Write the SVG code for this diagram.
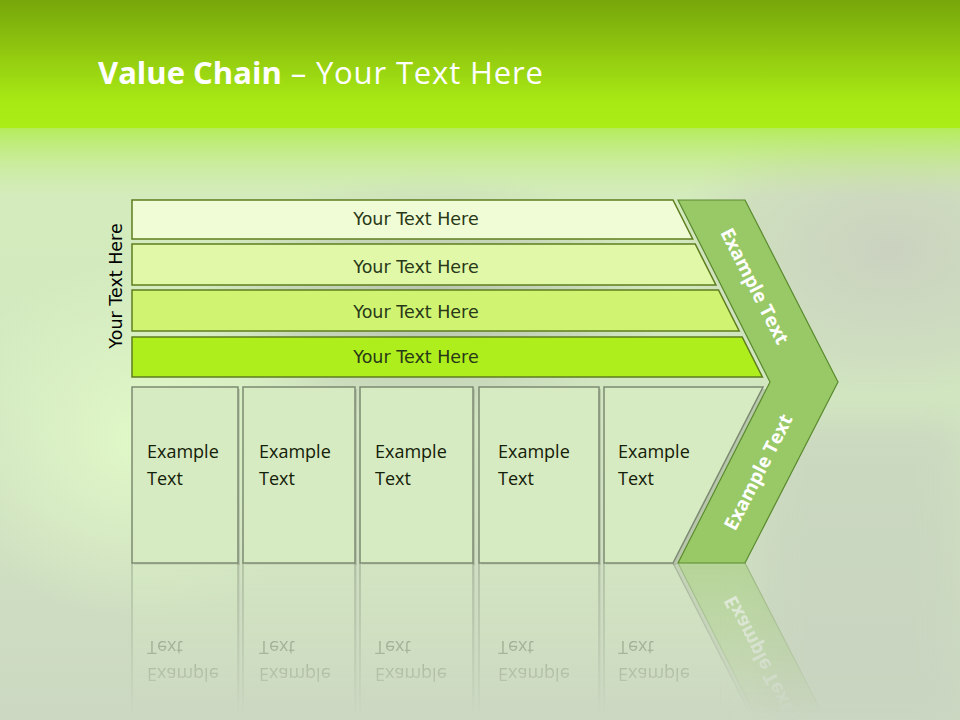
<svg xmlns="http://www.w3.org/2000/svg" width="960" height="720" viewBox="0 0 960 720">
<defs>
<linearGradient id="bgMain" x1="0" y1="0" x2="0" y2="1">
<stop offset="0" stop-color="#d6f0b8"/>
<stop offset="0.5" stop-color="#d2e8c0"/>
<stop offset="1" stop-color="#ccd8c2"/>
</linearGradient>
<linearGradient id="band" x1="0" y1="0" x2="0" y2="1">
<stop offset="0" stop-color="#76a60a"/>
<stop offset="0.45" stop-color="#94cc10"/>
<stop offset="0.8" stop-color="#a8ea14"/>
<stop offset="1" stop-color="#aaee16"/>
</linearGradient>
<linearGradient id="haze" x1="0" y1="0" x2="0" y2="1">
<stop offset="0" stop-color="#b4ec58" stop-opacity="1"/>
<stop offset="1" stop-color="#c8ec98" stop-opacity="0"/>
</linearGradient>
<radialGradient id="glowL" cx="0.5" cy="0.5" r="0.5">
<stop offset="0" stop-color="#e2fac8" stop-opacity="0.9"/>
<stop offset="1" stop-color="#e2fac8" stop-opacity="0"/>
</radialGradient>
<radialGradient id="grayC" cx="0.5" cy="0.5" r="0.5">
<stop offset="0" stop-color="#b4bcae" stop-opacity="0.85"/>
<stop offset="0.6" stop-color="#bcc6b4" stop-opacity="0.5"/>
<stop offset="1" stop-color="#c4d0bc" stop-opacity="0"/>
</radialGradient>
<radialGradient id="grayR" cx="0.5" cy="0.5" r="0.5">
<stop offset="0" stop-color="#c8ccc0" stop-opacity="0.8"/>
<stop offset="0.7" stop-color="#c8ccc0" stop-opacity="0.4"/>
<stop offset="1" stop-color="#c8ccc0" stop-opacity="0"/>
</radialGradient>
<linearGradient id="fadeG" x1="0" y1="563" x2="0" y2="715" gradientUnits="userSpaceOnUse">
<stop offset="0" stop-color="#fff" stop-opacity="0.45"/>
<stop offset="0.6" stop-color="#fff" stop-opacity="0.2"/>
<stop offset="1" stop-color="#fff" stop-opacity="0"/>
</linearGradient>
<mask id="fadeMask" maskUnits="userSpaceOnUse" x="0" y="560" width="960" height="160">
<rect x="0" y="563" width="960" height="157" fill="url(#fadeG)"/>
</mask>
<filter id="blur" x="-50%" y="-50%" width="200%" height="200%">
<feGaussianBlur stdDeviation="18"/>
</filter>
<style>
.bar { stroke:#5e7e1e; stroke-width:1.5; }
.barTxt { font-family:"DejaVu Sans", Verdana, sans-serif; font-size:17.5px; fill:#283818; text-anchor:middle; }
.box { fill:#d6ebc2; stroke:#7c8a72; stroke-width:1.5; }
.shadow { fill:#8c9484; opacity:0.35; }
.boxTxt { font-family:"Open Sans", "Liberation Sans", sans-serif; font-size:18px; fill:#142008; }
.chev { fill:#98c966; stroke:#5a8a2e; stroke-width:1.2; }
.chevTxt { font-family:"Open Sans", "Liberation Sans", sans-serif; font-size:19px; font-weight:bold; fill:#ffffff; text-anchor:middle; }
.title { font-family:"Open Sans", "Liberation Sans", sans-serif; font-size:31px; fill:#ffffff; }
</style>
</defs>

<g id="background">
<rect x="0" y="0" width="960" height="720" fill="url(#bgMain)"/>
<ellipse cx="430" cy="300" rx="240" ry="130" fill="url(#grayC)"/>
<ellipse cx="890" cy="250" rx="220" ry="150" fill="url(#grayR)"/>
<rect x="760" y="420" width="200" height="300" fill="#c8d2c0" opacity="0.6" filter="url(#blur)"/>
<ellipse cx="140" cy="440" rx="200" ry="180" fill="url(#glowL)"/>
<rect x="0" y="127" width="960" height="70" fill="url(#haze)"/>
<rect x="0" y="0" width="960" height="128" fill="url(#band)"/>
</g>

<g id="title">
<text class="title" x="98" y="84"><tspan font-weight="bold">Value Chain</tspan><tspan letter-spacing="0.85"> – Your Text Here</tspan></text>
</g>

<g id="side-label">
<text class="barTxt" transform="translate(122,286) rotate(-90)" style="fill:#000">Your Text Here</text>
</g>

<g id="bar1">
<polygon class="bar" fill="#f0fcd6" points="132,200 673,200 692.7,239 132,239"/>
<text class="barTxt" x="416" y="225">Your Text Here</text>
</g>
<g id="bar2">
<polygon class="bar" fill="#e0f8a8" points="132,244 695.2,244 715.9,285 132,285"/>
<text class="barTxt" x="416" y="273">Your Text Here</text>
</g>
<g id="bar3">
<polygon class="bar" fill="#d0f472" points="132,290 718.5,290 739.2,331 132,331"/>
<text class="barTxt" x="416" y="318">Your Text Here</text>
</g>
<g id="bar4">
<polygon class="bar" fill="#aeee1c" points="132,337 742.2,337 762.4,377 132,377"/>
<text class="barTxt" x="416" y="363">Your Text Here</text>
</g>

<g id="mainGroup">
<g id="box1">
<rect class="shadow" x="134" y="389" width="106" height="176"/>
<rect class="box" x="132" y="387" width="106" height="176"/>
<text class="boxTxt" x="147" y="458">Example</text>
<text class="boxTxt" x="147" y="485">Text</text>
</g>
<g id="box2">
<rect class="shadow" x="245" y="389" width="112" height="176"/>
<rect class="box" x="243" y="387" width="112" height="176"/>
<text class="boxTxt" x="259" y="458">Example</text>
<text class="boxTxt" x="259" y="485">Text</text>
</g>
<g id="box3">
<rect class="shadow" x="362" y="389" width="113" height="176"/>
<rect class="box" x="360" y="387" width="113" height="176"/>
<text class="boxTxt" x="375" y="458">Example</text>
<text class="boxTxt" x="375" y="485">Text</text>
</g>
<g id="box4">
<rect class="shadow" x="481" y="389" width="120" height="176"/>
<rect class="box" x="479" y="387" width="120" height="176"/>
<text class="boxTxt" x="498" y="458">Example</text>
<text class="boxTxt" x="498" y="485">Text</text>
</g>
<g id="box5">
<polygon class="shadow" points="606,389 766,389 676,565 606,565"/>
<polygon class="box" points="604,387 763,387 673,563 604,563"/>
<text class="boxTxt" x="618" y="458">Example</text>
<text class="boxTxt" x="618" y="485">Text</text>
</g>
<g id="chevron">
<polygon class="chev" points="678,200 745,200 838,382 745,563 678,563 770,382"/>
<text class="chevTxt" transform="translate(755,286) rotate(63)" dy="7">Example Text</text>
<text class="chevTxt" transform="translate(758,472) rotate(-63)" dy="7">Example Text</text>
</g>
</g>

<g id="reflection" mask="url(#fadeMask)">
<use href="#mainGroup" transform="translate(0,1126) scale(1,-1)"/>
</g>

<g id="connectors"></g>
</svg>
